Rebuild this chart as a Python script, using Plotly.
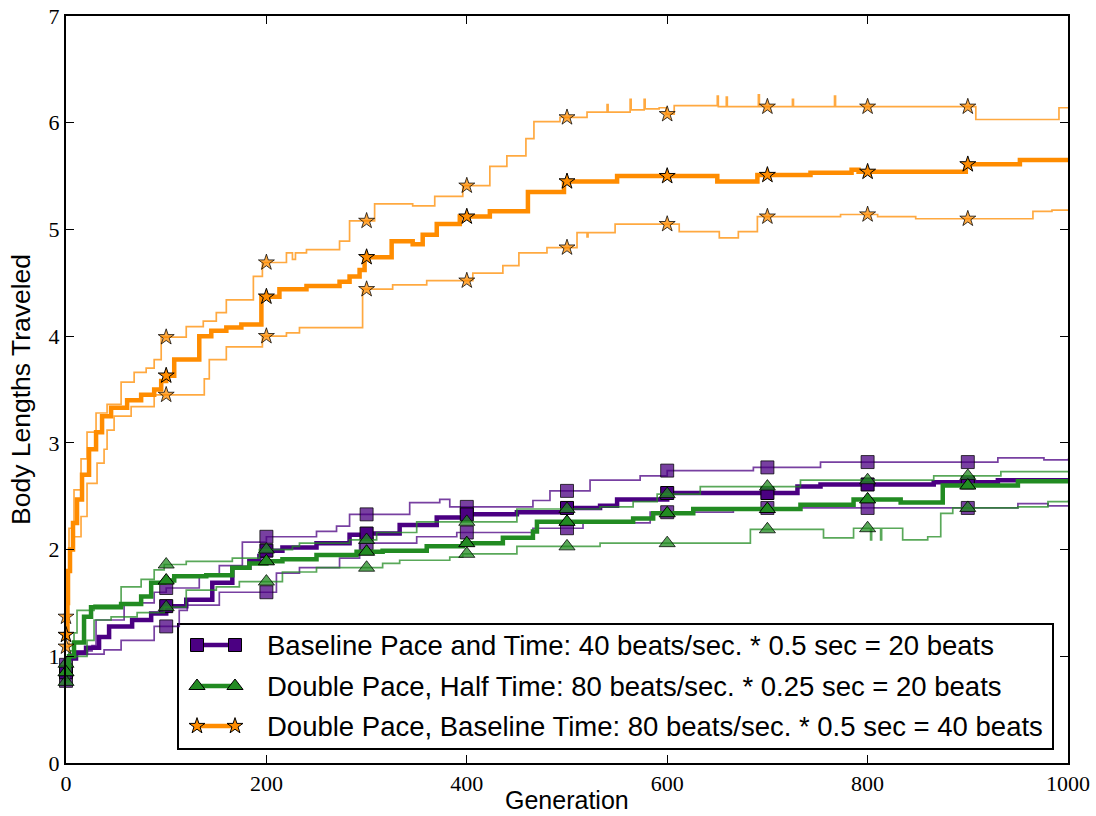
import numpy as np
import plotly.graph_objects as go

# ---------------- data (step breakpoints) ----------------
MARKER_GENS = [0, 100, 200, 300, 400, 500, 600, 700, 800, 900]

P_MEAN_G = [0, 3, 10, 20, 33, 43, 66, 85, 100, 120, 146, 166, 183, 193, 200, 216, 250, 283, 300, 333, 370, 400, 450, 500, 533, 550, 600, 633, 700, 730, 753, 800, 866, 930, 1000]
P_MEAN_V = [0.85, 0.98, 1.03, 1.08, 1.18, 1.28, 1.34, 1.40, 1.47, 1.53, 1.69, 1.83, 1.89, 1.94, 1.99, 2.02, 2.06, 2.14, 2.15, 2.23, 2.30, 2.33, 2.35, 2.39, 2.41, 2.47, 2.53, 2.53, 2.53, 2.59, 2.61, 2.61, 2.63, 2.65, 2.65]

P_UP_G = [0, 3, 10, 26, 30, 58, 88, 100, 133, 153, 176, 200, 220, 250, 270, 283, 316, 343, 373, 383, 416, 466, 483, 523, 573, 600, 686, 753, 930, 976, 1000]
P_UP_V = [0.92, 1.00, 1.05, 1.10, 1.34, 1.50, 1.60, 1.64, 1.75, 1.85, 2.07, 2.12, 2.12, 2.17, 2.22, 2.33, 2.33, 2.44, 2.47, 2.40, 2.40, 2.46, 2.55, 2.65, 2.69, 2.74, 2.77, 2.82, 2.86, 2.84, 2.85]

P_LO_G = [0, 3, 38, 55, 88, 113, 121, 153, 210, 233, 273, 293, 350, 390, 466, 516, 583, 650, 666, 950, 980, 1000]
P_LO_V = [0.77, 1.02, 1.06, 1.15, 1.28, 1.43, 1.48, 1.60, 1.78, 1.83, 1.92, 2.06, 2.12, 2.16, 2.20, 2.25, 2.35, 2.35, 2.39, 2.43, 2.41, 2.41]

G_MEAN_G = [0, 3, 8, 18, 25, 55, 75, 85, 98, 108, 140, 166, 183, 200, 216, 250, 290, 316, 360, 396, 436, 466, 470, 566, 586, 626, 733, 786, 833, 875, 950, 1000]
G_MEAN_V = [0.85, 1.00, 1.13, 1.37, 1.46, 1.49, 1.56, 1.69, 1.71, 1.75, 1.76, 1.83, 1.87, 1.89, 1.91, 1.95, 1.98, 1.99, 2.03, 2.06, 2.11, 2.17, 2.26, 2.29, 2.34, 2.38, 2.42, 2.47, 2.44, 2.60, 2.64, 2.65]

G_UP_G = [0, 3, 8, 11, 28, 55, 75, 88, 98, 120, 166, 193, 226, 233, 283, 310, 350, 450, 533, 566, 590, 633, 733, 866, 933, 1000]
G_UP_V = [0.93, 1.05, 1.22, 1.43, 1.48, 1.65, 1.72, 1.81, 1.86, 1.89, 1.92, 2.00, 2.03, 2.06, 2.09, 2.16, 2.26, 2.38, 2.40, 2.45, 2.52, 2.59, 2.65, 2.69, 2.73, 2.73]

G_LO_G = [0, 3, 21, 28, 45, 71, 98, 120, 150, 173, 216, 250, 316, 333, 383, 396, 450, 533, 683, 756, 786, 803, 804, 813, 814, 835, 860, 873, 885, 950, 980, 1000]
G_LO_V = [0.76, 1.00, 1.15, 1.34, 1.37, 1.41, 1.46, 1.62, 1.65, 1.70, 1.79, 1.83, 1.87, 1.90, 1.93, 1.96, 2.03, 2.06, 2.19, 2.11, 2.20, 2.09, 2.20, 2.09, 2.20, 2.09, 2.12, 2.34, 2.39, 2.40, 2.45, 2.46]

O_MEAN_G = [0, 1, 2, 4, 7, 11, 16, 23, 30, 36, 45, 61, 75, 88, 95, 100, 108, 133, 145, 160, 175, 195, 213, 240, 273, 283, 293, 298, 325, 346, 356, 370, 393, 423, 461, 497, 550, 650, 690, 743, 784, 791, 898, 952, 1000]
O_MEAN_V = [1.20, 1.50, 1.80, 2.00, 2.25, 2.47, 2.70, 2.94, 3.10, 3.25, 3.33, 3.40, 3.45, 3.50, 3.58, 3.63, 3.78, 4.00, 4.05, 4.08, 4.11, 4.37, 4.44, 4.47, 4.51, 4.56, 4.62, 4.74, 4.89, 4.86, 4.95, 5.05, 5.12, 5.17, 5.35, 5.45, 5.50, 5.45, 5.51, 5.53, 5.56, 5.54, 5.61, 5.65, 5.65]

O_UP_G = [0, 1, 3, 8, 15, 21, 30, 41, 55, 68, 80, 88, 95, 120, 137, 150, 160, 187, 196, 220, 226, 229, 240, 273, 283, 308, 346, 368, 396, 423, 440, 450, 459, 467, 493, 520, 540, 541, 563, 564, 577, 578, 592, 599, 607, 650, 651, 659, 660, 691, 692, 725, 726, 767, 768, 908, 991, 1000]
O_UP_V = [1.37, 1.80, 2.20, 2.56, 2.85, 3.10, 3.28, 3.36, 3.57, 3.66, 3.70, 3.78, 3.99, 4.09, 4.14, 4.22, 4.34, 4.56, 4.69, 4.78, 4.72, 4.78, 4.81, 4.89, 5.08, 5.24, 5.22, 5.31, 5.41, 5.59, 5.69, 5.69, 5.85, 6.01, 6.05, 6.10, 6.17, 6.10, 6.22, 6.12, 6.22, 6.13, 6.14, 6.08, 6.16, 6.25, 6.15, 6.24, 6.15, 6.26, 6.15, 6.22, 6.15, 6.25, 6.15, 6.03, 6.14, 6.14]

O_LO_G = [0, 3, 8, 15, 21, 31, 38, 41, 48, 65, 88, 138, 143, 160, 196, 220, 233, 296, 326, 360, 406, 436, 452, 480, 510, 520, 521, 548, 612, 652, 671, 690, 773, 810, 848, 965, 984, 1000]
O_LO_V = [1.09, 2.00, 2.12, 2.31, 2.62, 2.81, 2.94, 3.12, 3.25, 3.34, 3.45, 3.60, 3.78, 3.90, 4.00, 4.03, 4.08, 4.44, 4.48, 4.52, 4.59, 4.66, 4.78, 4.83, 4.97, 4.93, 4.97, 5.05, 4.98, 4.92, 4.98, 5.12, 5.14, 5.12, 5.10, 5.17, 5.18, 5.18]

LEGEND_LABELS = [
    "Baseline Pace and Time: 40 beats/sec. * 0.5 sec = 20 beats",
    "Double Pace, Half Time: 80 beats/sec. * 0.25 sec = 20 beats",
    "Double Pace, Baseline Time: 80 beats/sec. * 0.5 sec = 40 beats",
]
X_TICKS = [0, 200, 400, 600, 800, 1000]
Y_TICKS = [0, 1, 2, 3, 4, 5, 6, 7]

# ---------------- styling ----------------
INDIGO = "#4B0082"
GREEN = "#228B22"
ORANGE = "#FF8C00"


def rgba(hexc, a):
    h = hexc.lstrip("#")
    r, g, b = int(h[0:2], 16), int(h[2:4], 16), int(h[4:6], 16)
    return f"rgba({r},{g},{b},{a})"


def step_at(gens, vals, xs):
    gens = np.asarray(gens)
    vals = np.asarray(vals)
    idx = np.searchsorted(gens, xs, side="right") - 1
    return vals[idx]


fig = go.Figure()

series = [
    (P_UP_G, P_UP_V, INDIGO, "square", 13, False),
    (P_LO_G, P_LO_V, INDIGO, "square", 13, False),
    (P_MEAN_G, P_MEAN_V, INDIGO, "square", 13, True),
    (G_UP_G, G_UP_V, GREEN, "triangle-up", 14, False),
    (G_LO_G, G_LO_V, GREEN, "triangle-up", 14, False),
    (G_MEAN_G, G_MEAN_V, GREEN, "triangle-up", 14, True),
    (O_UP_G, O_UP_V, ORANGE, "star", 12, False),
    (O_LO_G, O_LO_V, ORANGE, "star", 12, False),
    (O_MEAN_G, O_MEAN_V, ORANGE, "star", 12, True),
]

for gens, vals, col, sym, ms, thick in series:
    alpha = 1.0 if thick else 0.75
    fig.add_trace(go.Scatter(
        x=gens, y=vals, mode="lines",
        line=dict(color=rgba(col, alpha), width=4.5 if thick else 1.7, shape="hv"),
        showlegend=False, hoverinfo="skip",
    ))
    my = step_at(gens, vals, MARKER_GENS)
    fig.add_trace(go.Scatter(
        x=MARKER_GENS, y=my, mode="markers", cliponaxis=False,
        marker=dict(symbol=sym, size=ms, color=rgba(col, alpha),
                    line=dict(color=rgba("#000000", alpha), width=1)),
        showlegend=False, hoverinfo="skip",
    ))

# ---------------- custom legend (matplotlib style) ----------------
PLOT_L, PLOT_R, PLOT_T, PLOT_B = 66, 1068, 16, 763
PW, PH = PLOT_R - PLOT_L, PLOT_B - PLOT_T


def fx(px):
    return (px - PLOT_L) / PW


def fy(py):
    return (PLOT_B - py) / PH


leg_rows_y = [fy(645), fy(686), fy(726)]
leg_cols = [INDIGO, GREEN, ORANGE]
leg_syms = ["square", "triangle-up", "star"]
leg_sizes = [13, 14, 12]
x_a, x_b = fx(197), fx(235)
for yy, col, sym, ms in zip(leg_rows_y, leg_cols, leg_syms, leg_sizes):
    fig.add_trace(go.Scatter(
        x=[x_a, x_b], y=[yy, yy], xaxis="x2", yaxis="y2",
        mode="lines+markers", cliponaxis=False,
        line=dict(color=col, width=4.5),
        marker=dict(symbol=sym, size=ms, color=col, line=dict(color="black", width=1)),
        showlegend=False, hoverinfo="skip",
    ))

sans = "Liberation Sans, Arial, sans-serif"
annotations = []
for yy, lab in zip(leg_rows_y, LEGEND_LABELS):
    annotations.append(dict(
        x=fx(265), y=yy, xref="paper", yref="paper", text=lab, showarrow=False,
        xanchor="left", yanchor="middle",
        font=dict(family=sans, size=27.5, color="black"),
    ))

annotations.append(dict(
    x=0.5, y=-(815 - PLOT_B) / PH, xref="paper", yref="paper", text="Generation",
    showarrow=False, xanchor="center", yanchor="bottom", borderpad=0,
    font=dict(family=sans, size=25, color="black"),
))
annotations.append(dict(
    x=-(PLOT_L - 38) / PW, y=fy(390), xref="paper", yref="paper", text="Body Lengths Traveled",
    showarrow=False, textangle=-90, xanchor="right", yanchor="middle",
    font=dict(family=sans, size=26.5, color="black"),
))

shapes = [dict(
    type="rect", xref="paper", yref="paper",
    x0=fx(178), x1=fx(1053), y0=fy(749), y1=fy(624),
    line=dict(color="black", width=2), fillcolor="white", layer="below",
)]

tickfont = dict(family="Liberation Serif, Times New Roman, serif", size=22, color="black")

fig.update_layout(
    width=1096, height=816,
    margin=dict(l=PLOT_L, r=1096 - PLOT_R, t=PLOT_T, b=816 - PLOT_B, autoexpand=False),
    paper_bgcolor="white", plot_bgcolor="white",
    showlegend=False,
    xaxis=dict(
        range=[0, 1000], tickvals=X_TICKS, ticktext=[str(v) for v in X_TICKS],
        ticks="inside", ticklen=8, tickwidth=1, tickcolor="black",
        showline=True, linecolor="black", linewidth=2, mirror="ticks",
        showgrid=False, zeroline=False, tickfont=tickfont, automargin=False,
    ),
    yaxis=dict(
        range=[0, 7], tickvals=Y_TICKS, ticktext=[str(v) for v in Y_TICKS],
        ticks="inside", ticklen=8, tickwidth=1, tickcolor="black",
        showline=True, linecolor="black", linewidth=2, mirror="ticks",
        showgrid=False, zeroline=False, tickfont=tickfont, automargin=False,
    ),
    xaxis2=dict(range=[0, 1], overlaying="x", visible=False, fixedrange=True),
    yaxis2=dict(range=[0, 1], overlaying="y", visible=False, fixedrange=True),
    annotations=annotations,
    shapes=shapes,
)

fig.write_html("out.html")
